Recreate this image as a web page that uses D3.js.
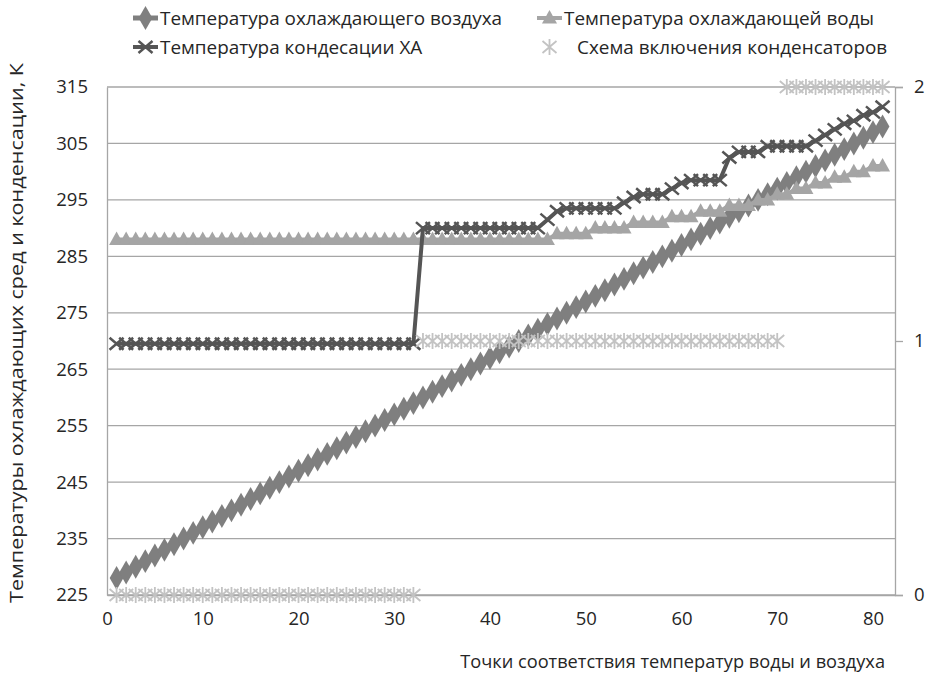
<!DOCTYPE html>
<html>
<head>
<meta charset="utf-8">
<script src="https://cdn.jsdelivr.net/npm/d3@7"></script>
<style>
  body { margin: 0; background: #fff; }
  svg text { font-family: "Open Sans", sans-serif; fill: #262626; }
</style>
</head>
<body>
<div id="container"></div>
<script>
const width = 930;
const height = 673;

// DATA
const pointIds = d3.range(1, 82);   // points 1..81

const airTemp = [
    228, 229, 230, 231, 232, 233, 234, 235, 236, 237,
    238, 239, 240, 241, 242, 243, 244, 245, 246, 247,
    248, 249, 250, 251, 252, 253, 254, 255, 256, 257,
    258, 259, 260, 261, 262, 263, 264, 265, 266, 267,
    268, 269, 270, 271, 272, 273, 274, 275, 276, 277,
    278, 279, 280, 281, 282, 283, 284, 285, 286, 287,
    288, 289, 290, 291, 292, 293, 294, 295, 296, 297,
    298, 299, 300, 301, 302, 303, 304, 305, 306, 307,
    308];

const waterTemp = [
    288, 288, 288, 288, 288, 288, 288, 288, 288, 288,
    288, 288, 288, 288, 288, 288, 288, 288, 288, 288,
    288, 288, 288, 288, 288, 288, 288, 288, 288, 288,
    288, 288, 288, 288, 288, 288, 288, 288, 288, 288,
    288, 288, 288, 288, 288, 288, 289, 289, 289, 289,
    290, 290, 290, 290, 291, 291, 291, 291, 292, 292,
    292, 293, 293, 293, 294, 294, 294, 295, 295, 296,
    296, 297, 297, 298, 298, 299, 299, 300, 300, 301,
    301];

const condTemp = [
    269.5, 269.5, 269.5, 269.5, 269.5, 269.5, 269.5, 269.5, 269.5, 269.5,
    269.5, 269.5, 269.5, 269.5, 269.5, 269.5, 269.5, 269.5, 269.5, 269.5,
    269.5, 269.5, 269.5, 269.5, 269.5, 269.5, 269.5, 269.5, 269.5, 269.5,
    269.5, 269.5, 290, 290, 290, 290, 290, 290, 290, 290,
    290, 290, 290, 290, 290, 291.5, 293, 293.5, 293.5, 293.5,
    293.5, 293.5, 293.5, 294.5, 295.5, 296, 296, 296, 297, 298,
    298.5, 298.5, 298.5, 298.5, 302.5, 303.5, 303.5, 303.5, 304.5, 304.5,
    304.5, 304.5, 304.5, 305.5, 306.5, 307.5, 308.5, 309, 310, 310.5,
    311.5];

const scheme = [
    0, 0, 0, 0, 0, 0, 0, 0, 0, 0,
    0, 0, 0, 0, 0, 0, 0, 0, 0, 0,
    0, 0, 0, 0, 0, 0, 0, 0, 0, 0,
    0, 0, 1, 1, 1, 1, 1, 1, 1, 1,
    1, 1, 1, 1, 1, 1, 1, 1, 1, 1,
    1, 1, 1, 1, 1, 1, 1, 1, 1, 1,
    1, 1, 1, 1, 1, 1, 1, 1, 1, 1,
    2, 2, 2, 2, 2, 2, 2, 2, 2, 2,
    2];

const xTicks = [0, 10, 20, 30, 40, 50, 60, 70, 80];
const yTicks = [225, 235, 245, 255, 265, 275, 285, 295, 305, 315];
const y2Ticks = [0, 1, 2];

const seriesNames = [
    "Температура охлаждающего воздуха",
    "Температура охлаждающей воды",
    "Температура кондесации ХА",
    "Схема включения конденсаторов"
];

const svg = d3.select("div#container").append("svg")
    .attr("width", width)
    .attr("height", height);

// SCALES
const plot = {left: 107, right: 895, top: 87, bottom: 595};
const xScale = d3.scaleLinear().domain([0, 82.3]).range([plot.left, plot.right]);
const yScale = d3.scaleLinear().domain([225, 315]).range([plot.bottom, plot.top]);
const y2Scale = d3.scaleLinear().domain([0, 2]).range([plot.bottom, plot.top]);

// MARKERS
const diamond = d3.symbol().type(d3.symbolDiamond).size(165);
const triangle = "M0,-8L7.5,5.5L-7.5,5.5Z";
const cross = "M-7,-6L7,6M-7,6L7,-6";
const star = "M-7,-6L7,6M-7,6L7,-6M0,-8L0,8";

// GRID
svg.append("g")
    .selectAll("line")
    .data(yTicks)
    .enter().append("line")
    .attr("x1", plot.left).attr("x2", plot.right)
    .attr("y1", d => yScale(d)).attr("y2", d => yScale(d))
    .style("stroke", "#a6a6a6")
    .style("stroke-width", 1.3);

// AXES
const yaxis = d3.axisLeft(yScale).tickValues(yTicks).tickSize(0).tickPadding(19);
const xaxis = d3.axisBottom(xScale).tickValues(xTicks).tickSize(0).tickPadding(17);
const y2axis = d3.axisRight(y2Scale).tickValues(y2Ticks).tickFormat(d3.format("d"))
    .tickSize(8).tickPadding(11);

[svg.append("g").attr("transform", "translate(" + plot.left + ",0)").call(yaxis),
 svg.append("g").attr("transform", "translate(0," + plot.bottom + ")").call(xaxis),
 svg.append("g").attr("transform", "translate(" + plot.right + ",0)").call(y2axis)]
    .forEach(function (g) {
        g.select(".domain").style("stroke", "#a6a6a6").style("stroke-width", 1.3);
        g.selectAll(".tick line").style("stroke", "#a6a6a6").style("stroke-width", 1.3);
        g.selectAll(".tick text")
            .style("font-family", "'Open Sans', sans-serif")
            .style("font-size", "18.5px")
            .style("fill", "#262626");
    });

svg.append("text")
    .attr("transform", "translate(23,333) rotate(-90)")
    .attr("text-anchor", "middle")
    .attr("textLength", 540)
    .attr("lengthAdjust", "spacingAndGlyphs")
    .style("font-size", "18.5px")
    .text("Температуры охлаждающих сред и конденсации, К");

svg.append("text")
    .attr("x", 885).attr("y", 668)
    .attr("text-anchor", "end")
    .style("font-size", "18.2px")
    .text("Точки соответствия температур воды и воздуха");

// LINES
const series = [
    {values: airTemp, color: "#7f7f7f", width: 5, marker: "diamond", scale: yScale},
    {values: waterTemp, color: "#a5a5a5", width: 4, marker: "triangle", scale: yScale},
    {values: condTemp, color: "#555555", width: 4, marker: "cross", scale: yScale},
    {values: scheme, color: "#c3c3c3", width: 0, marker: "star", scale: y2Scale}
];

function drawMarker(sel, s) {
    if (s.marker === "diamond") {
        sel.attr("d", diamond).style("fill", s.color).style("stroke", "none");
    } else if (s.marker === "triangle") {
        sel.attr("d", triangle).style("fill", s.color).style("stroke", "none");
    } else if (s.marker === "cross") {
        sel.attr("d", cross).style("fill", "none").style("stroke", s.color).style("stroke-width", 2.5);
    } else {
        sel.attr("d", star).style("fill", "none").style("stroke", s.color).style("stroke-width", 1.8);
    }
}

series.forEach(function (s) {
    const pts = pointIds.map((id, i) => ({x: id, v: s.values[i]}));
    const g = svg.append("g");
    if (s.width > 0) {
        const line = d3.line()
            .x(d => xScale(d.x))
            .y(d => s.scale(d.v));
        g.append("path")
            .attr("d", line(pts))
            .style("fill", "none")
            .style("stroke", s.color)
            .style("stroke-width", s.width)
            .style("stroke-linejoin", "round");
    }
    g.selectAll("path.mk")
        .data(pts)
        .enter().append("path")
        .attr("class", "mk")
        .attr("transform", d => "translate(" + xScale(d.x) + "," + s.scale(d.v) + ")")
        .call(drawMarker, s);
});

// LEGEND
const legendPos = [
    {x: 133, y: 18, tx: 160},
    {x: 537, y: 18, tx: 564},
    {x: 133, y: 47, tx: 160},
    {x: 537, y: 47, tx: 577}
];

series.forEach(function (s, i) {
    const p = legendPos[i];
    const g = svg.append("g");
    if (s.width > 0) {
        g.append("line")
            .attr("x1", p.x).attr("x2", p.x + 25)
            .attr("y1", p.y).attr("y2", p.y)
            .style("stroke", s.color)
            .style("stroke-width", s.width);
    }
    g.append("path")
        .attr("transform", "translate(" + (p.x + 12.5) + "," + p.y + ")")
        .call(drawMarker, s);
    g.append("text")
        .attr("x", p.tx).attr("y", p.y)
        .attr("dy", "0.35em")
        .style("font-size", "18.9px")
        .text(seriesNames[i]);
});
</script>
</body>
</html>
